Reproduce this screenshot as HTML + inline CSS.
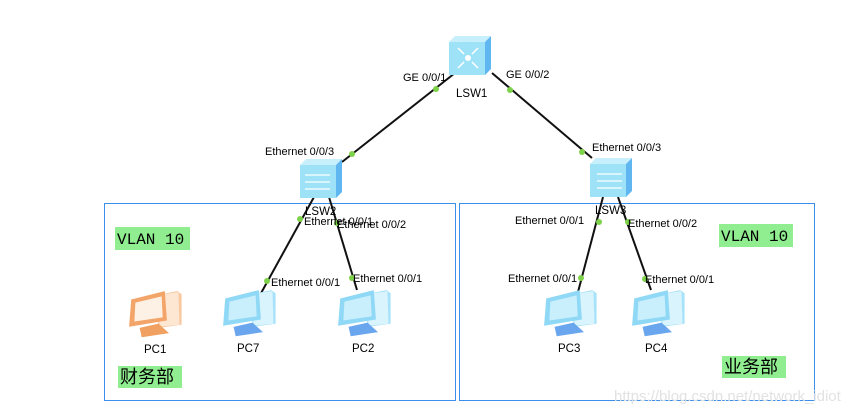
<!DOCTYPE html>
<html><head><meta charset="utf-8"><style>
body{margin:0;background:#fff;}
svg{display:block;}
text{font-family:"Liberation Sans",sans-serif;font-size:11px;fill:#000;}
.m{font-family:"Liberation Mono",monospace;font-size:16px;}
.c{font-family:"Liberation Sans","Noto Sans CJK SC",sans-serif;font-size:18px;}
</style></head><body>
<svg width="864" height="412" viewBox="0 0 864 412" xmlns="http://www.w3.org/2000/svg">
<defs>
<g id="sw">
<polygon points="0,6 6,0 42,0 36,6" fill="#c8f0fc"/>
<polygon points="36,6 42,0 42,33 36,39" fill="#5fb6f0"/>
<rect x="0" y="6" width="36" height="33" fill="#9ee2f8"/>
</g>
</defs>
<rect x="104.5" y="203.5" width="351" height="197" fill="none" stroke="#3b8eea" stroke-width="1"/>
<rect x="459.5" y="203.5" width="355" height="197" fill="none" stroke="#3b8eea" stroke-width="1"/>
<g stroke="#111" stroke-width="2">
<line x1="455" y1="73" x2="342" y2="162"/>
<line x1="492" y1="73" x2="592" y2="158"/>
<line x1="314" y1="197" x2="260" y2="295"/>
<line x1="329" y1="197" x2="357" y2="290"/>
<line x1="603" y1="197" x2="578" y2="292"/>
<line x1="618" y1="197" x2="651" y2="290"/>
</g>
<use href="#sw" x="449" y="36"/>
<g stroke="#fff" stroke-width="1.5" fill="none"><path d="M458 48l6 6M478 48l-6 6M458 68l6-6M478 68l-6-6"/></g>
<circle cx="468" cy="58" r="3" fill="#fff"/>
<use href="#sw" x="300" y="159"/>
<use href="#sw" x="590" y="158"/>
<g stroke="#fff" stroke-width="1.3" fill="none">
<path d="M305 175h25M305 182h25M305 189h25M597 174h25M597 181h25M597 188h25"/>
</g>
<g fill="#7ed24a">
<circle cx="436" cy="89" r="3"/><circle cx="510" cy="90" r="3"/>
<circle cx="352" cy="154" r="3"/><circle cx="582" cy="152" r="3"/>
<circle cx="300" cy="219" r="3"/><circle cx="337" cy="223" r="3"/>
<circle cx="267" cy="281" r="3"/><circle cx="352" cy="278" r="3"/>
<circle cx="599" cy="222" r="3"/><circle cx="628" cy="222" r="3"/>
<circle cx="581" cy="278" r="3"/><circle cx="645" cy="279" r="3"/>
</g>
<g transform="translate(127,289) scale(1.05)">
<polygon points="28,6 48,2 52,5 52,34 30,37" fill="#f8c89e"/>
<polygon points="29,6 49,3 50,34 31,36" fill="#fde6d2"/>
<polygon points="4,10 36,2 38,30 2,36" fill="#f3a468"/>
<polygon points="8,13 33,7 34,27 7,31" fill="#fdf0e4"/>
<polygon points="12,37 30,33 40,42 14,46" fill="#f0a060"/>
</g>
<g transform="translate(221,288) scale(1.05)">
<polygon points="28,6 48,2 52,5 52,34 30,37" fill="#a8e2fa"/>
<polygon points="29,6 49,3 50,34 31,36" fill="#d9f4fc"/>
<polygon points="4,10 36,2 38,30 2,36" fill="#8fd8f6"/>
<polygon points="8,13 33,7 34,27 7,31" fill="#c9eefc"/>
<polygon points="12,37 30,33 40,42 14,46" fill="#6aa6ee"/>
</g>
<g transform="translate(336,288) scale(1.05)">
<polygon points="28,6 48,2 52,5 52,34 30,37" fill="#a8e2fa"/>
<polygon points="29,6 49,3 50,34 31,36" fill="#d9f4fc"/>
<polygon points="4,10 36,2 38,30 2,36" fill="#8fd8f6"/>
<polygon points="8,13 33,7 34,27 7,31" fill="#c9eefc"/>
<polygon points="12,37 30,33 40,42 14,46" fill="#6aa6ee"/>
</g>
<g transform="translate(542,288) scale(1.05)">
<polygon points="28,6 48,2 52,5 52,34 30,37" fill="#a8e2fa"/>
<polygon points="29,6 49,3 50,34 31,36" fill="#d9f4fc"/>
<polygon points="4,10 36,2 38,30 2,36" fill="#8fd8f6"/>
<polygon points="8,13 33,7 34,27 7,31" fill="#c9eefc"/>
<polygon points="12,37 30,33 40,42 14,46" fill="#6aa6ee"/>
</g>
<g transform="translate(630,288) scale(1.05)">
<polygon points="28,6 48,2 52,5 52,34 30,37" fill="#a8e2fa"/>
<polygon points="29,6 49,3 50,34 31,36" fill="#d9f4fc"/>
<polygon points="4,10 36,2 38,30 2,36" fill="#8fd8f6"/>
<polygon points="8,13 33,7 34,27 7,31" fill="#c9eefc"/>
<polygon points="12,37 30,33 40,42 14,46" fill="#6aa6ee"/>
</g>
<text x="403" y="81">GE 0/0/1</text>
<text x="506" y="78">GE 0/0/2</text>
<text x="456" y="97" style="font-size:11.5px">LSW1</text>
<text x="265" y="155">Ethernet 0/0/3</text>
<text x="592" y="151">Ethernet 0/0/3</text>
<text x="305" y="215" style="font-size:11.5px">LSW2</text>
<text x="595" y="214" style="font-size:11.5px">LSW3</text>
<text x="304" y="225">Ethernet 0/0/1</text>
<text x="337" y="228">Ethernet 0/0/2</text>
<text x="271" y="286">Ethernet 0/0/1</text>
<text x="353" y="282">Ethernet 0/0/1</text>
<text x="515" y="224">Ethernet 0/0/1</text>
<text x="628" y="227">Ethernet 0/0/2</text>
<text x="508" y="282">Ethernet 0/0/1</text>
<text x="645" y="283">Ethernet 0/0/1</text>
<text x="144" y="353" style="font-size:11.5px">PC1</text>
<text x="237" y="352" style="font-size:11.5px">PC7</text>
<text x="352" y="352" style="font-size:11.5px">PC2</text>
<text x="558" y="352" style="font-size:11.5px">PC3</text>
<text x="645" y="352" style="font-size:11.5px">PC4</text>
<rect x="115" y="227" width="75" height="23" fill="#90ee90"/>
<text class="m" x="117" y="244">VLAN 10</text>
<rect x="719" y="224" width="74" height="23" fill="#90ee90"/>
<text class="m" x="721" y="241">VLAN 10</text>
<rect x="118" y="366" width="64" height="22" fill="#90ee90"/>
<text class="c" x="120" y="383">财务部</text>
<rect x="722" y="356" width="64" height="22" fill="#90ee90"/>
<text class="c" x="724" y="373">业务部</text>
<text x="614" y="401" style="font-size:15px;fill:#e2e2e2">https://blog.csdn.net/network_idiot</text>
</svg>
</body></html>
